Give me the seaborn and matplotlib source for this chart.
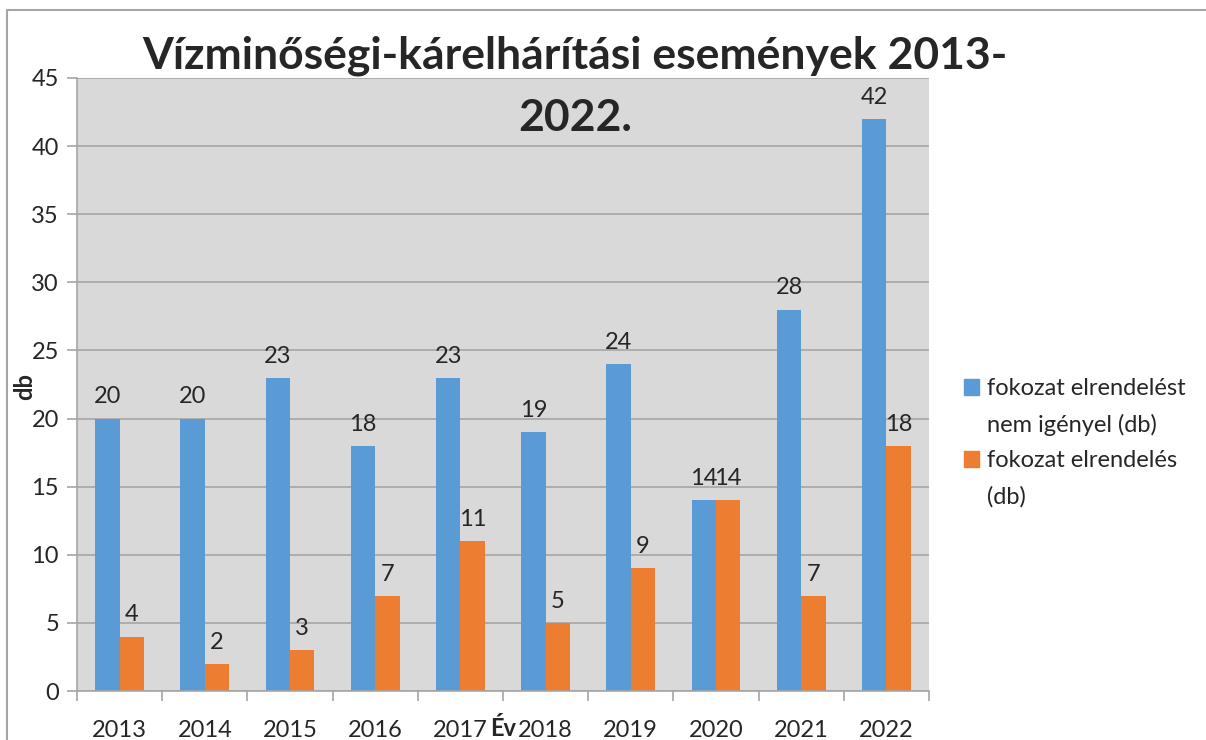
import matplotlib
matplotlib.use('Agg')
import matplotlib.pyplot as plt
from matplotlib.lines import Line2D
import pandas as pd
import seaborn as sns

years = ['2013', '2014', '2015', '2016', '2017', '2018', '2019', '2020', '2021', '2022']
nem_igenyel = [20, 20, 23, 18, 23, 19, 24, 14, 28, 42]
elrendeles = [4, 2, 3, 7, 11, 5, 9, 14, 7, 18]
series_names = ['fokozat elrendelést nem igényel (db)', 'fokozat elrendelés (db)']
# legend text wrapped like the original, one row per line
legend_lines = [['fokozat elrendelést', 'nem igényel (db)'], ['fokozat elrendelés', '(db)']]
colors = ['#5b9bd5', '#ed7d31']

df = pd.DataFrame({
    'Év': years * 2,
    'db': nem_igenyel + elrendeles,
    'sorozat': [series_names[0]] * len(years) + [series_names[1]] * len(years),
})

sns.set_style('white')
plt.rcParams['font.family'] = ['Lato', 'DejaVu Sans']

fig = plt.figure(figsize=(12.06, 7.4), dpi=100)
ax = fig.add_axes([77 / 1206, 1 - 691 / 740, 852 / 1206, 613 / 740])
ax.set_facecolor('#d9d9d9')

sns.barplot(data=df, x='Év', y='db', hue='sorozat', palette=colors,
            width=2 / 3.5, gap=0, ax=ax, legend=False, saturation=1, linewidth=0)

for cont in ax.containers:
    ax.bar_label(cont, padding=8, fontsize=17)

ax.set_ylim(0, 45)
ax.set_yticks(range(0, 46, 5))
ax.set_xlim(-0.5, len(years) - 0.5)
ax.yaxis.grid(True, color='#a6a6a6', linewidth=1.2)
ax.set_axisbelow(True)

for s in ['top', 'right']:
    ax.spines[s].set_visible(False)
for s in ['left', 'bottom']:
    ax.spines[s].set_color('#a6a6a6')
    ax.spines[s].set_linewidth(1.2)

ax.tick_params(axis='y', length=7, width=1.2, color='#a6a6a6', labelsize=17, pad=6, direction='out', left=True)
ax.tick_params(axis='x', which='major', length=0, labelsize=17, pad=21)
ax.set_xticks([i + 0.5 for i in range(-1, len(years))], minor=True)
ax.tick_params(axis='x', which='minor', length=7, width=1.2, color='#a6a6a6', bottom=True, direction='out')

ax.set_xlabel('')
ax.set_ylabel('')
fig.text(503 / 1206, 1 - 729 / 740, 'Év', ha='center', va='center', fontsize=17, fontweight='bold')
fig.text(25 / 1206, 1 - 387 / 740, 'db', ha='center', va='center', rotation=90,
         fontsize=17, fontweight='bold')

fig.text(575 / 1206, 1 - 56 / 740, 'Vízminőségi-kárelhárítási események 2013-',
         ha='center', va='center', fontsize=32, fontweight='bold')
fig.text(575 / 1206, 1 - 118 / 740, '2022.',
         ha='center', va='center', fontsize=32, fontweight='bold')

handles, labels = [], []
for c, lines in zip(colors, legend_lines):
    handles.append(plt.Rectangle((0, 0), 1, 1, color=c))
    labels.append(lines[0])
    for extra in lines[1:]:
        handles.append(plt.Rectangle((0, 0), 1, 1, fc='none', ec='none'))
        labels.append(extra)
fig.legend(handles, labels, loc='upper left', bbox_to_anchor=(964 / 1206, 1 - 378 / 740),
           frameon=False, fontsize=17, handlelength=0.64, handleheight=0.64, handletextpad=0.34,
           labelspacing=0.62, borderaxespad=0, borderpad=0)

fig.add_artist(Line2D([7 / 1206, 1], [1 - 10 / 740, 1 - 10 / 740], color='#a6a6a6', linewidth=1.5))
fig.add_artist(Line2D([7 / 1206, 7 / 1206], [0, 1 - 10 / 740], color='#a6a6a6', linewidth=1.5))

fig.savefig('out.png', dpi=100, facecolor='white')
